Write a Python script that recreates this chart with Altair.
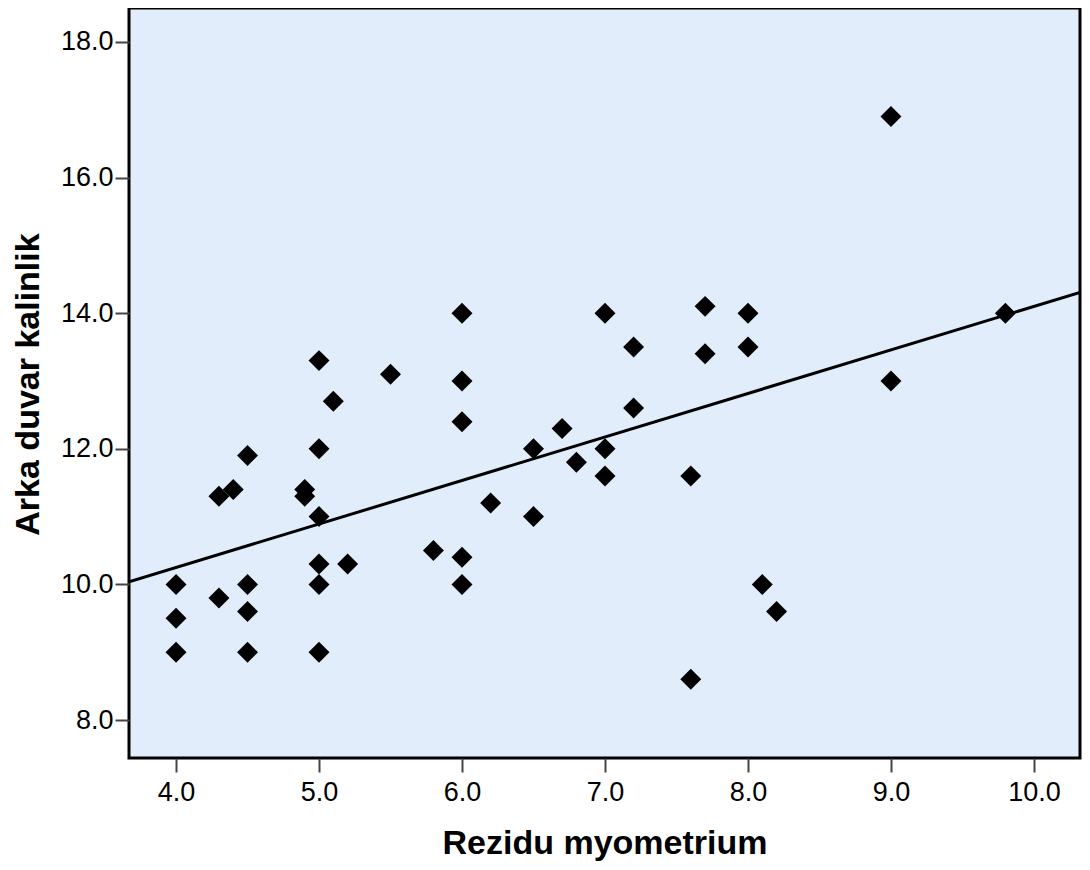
import altair as alt
import pandas as pd

rezidu = [4.0, 4.0, 4.0, 4.3, 4.4, 4.3, 4.5, 4.5, 4.5, 4.5, 4.9, 4.9,
          5.0, 5.0, 5.0, 5.0, 5.0, 5.0, 5.1, 5.2, 5.5, 5.8,
          6.0, 6.0, 6.0, 6.0, 6.0, 6.2, 6.5, 6.5, 6.7, 6.8,
          7.0, 7.0, 7.0, 7.2, 7.2, 7.6, 7.6, 7.7, 7.7,
          8.0, 8.0, 8.1, 8.2, 9.0, 9.0, 9.8]
arka = [10.0, 9.5, 9.0, 11.3, 11.4, 9.8, 11.9, 10.0, 9.6, 9.0, 11.4, 11.3,
        13.3, 12.0, 11.0, 10.3, 10.0, 9.0, 12.7, 10.3, 13.1, 10.5,
        14.0, 13.0, 12.4, 10.4, 10.0, 11.2, 12.0, 11.0, 12.3, 11.8,
        14.0, 12.0, 11.6, 13.5, 12.6, 11.6, 8.6, 14.1, 13.4,
        14.0, 13.5, 10.0, 9.6, 16.9, 13.0, 14.0]
x_ticks = [4.0, 5.0, 6.0, 7.0, 8.0, 9.0, 10.0]
y_ticks = [8.0, 10.0, 12.0, 14.0, 16.0, 18.0]
x_domain = [3.671, 10.322]
y_domain = [7.44, 18.50]

df = pd.DataFrame({"x": rezidu, "y": arka})

FONT = "Liberation Sans"

xenc = alt.X("x:Q", scale=alt.Scale(domain=x_domain, nice=False, zero=False),
             axis=alt.Axis(values=x_ticks, format=".1f", title="Rezidu myometrium",
                           domain=False, grid=False, tickSize=14, tickWidth=2,
                           tickColor="#444444", labelFont=FONT, labelFontSize=27,
                           labelColor="#000000", labelPadding=7,
                           titleFont=FONT, titleFontSize=34, titleFontWeight="bold",
                           titleColor="#000000", titleY=95, titleBaseline="alphabetic"))
yenc = alt.Y("y:Q", scale=alt.Scale(domain=y_domain, nice=False, zero=False),
             axis=alt.Axis(values=y_ticks, format=".1f", title="Arka duvar kalinlik",
                           domain=False, grid=False, tickSize=14, tickWidth=2,
                           tickColor="#444444", labelFont=FONT, labelFontSize=27,
                           labelColor="#000000", labelPadding=2,
                           titleFont=FONT, titleFontSize=34, titleFontWeight="bold",
                           titleColor="#000000", titleX=-91, titleY=376,
                           titleAngle=270, titleBaseline="alphabetic", titleAlign="center"))

base = alt.Chart(df)

points = base.mark_point(shape="diamond", filled=True, size=440, color="#000000",
                         opacity=1).encode(x=xenc, y=yenc)

line = base.transform_regression("x", "y", extent=x_domain).mark_line(
    color="#000000", strokeWidth=3, clip=True).encode(x=xenc, y=yenc)

chart = (line + points).properties(
    width=951, height=750,
    autosize=alt.AutoSizeParams(type="none"),
    padding={"left": 121, "top": 0, "right": 2, "bottom": 104},
).configure_view(fill="#E1EDFA", stroke="#000000", strokeWidth=3)

chart.save("out.html", embed_options={"renderer": "svg", "actions": False})
